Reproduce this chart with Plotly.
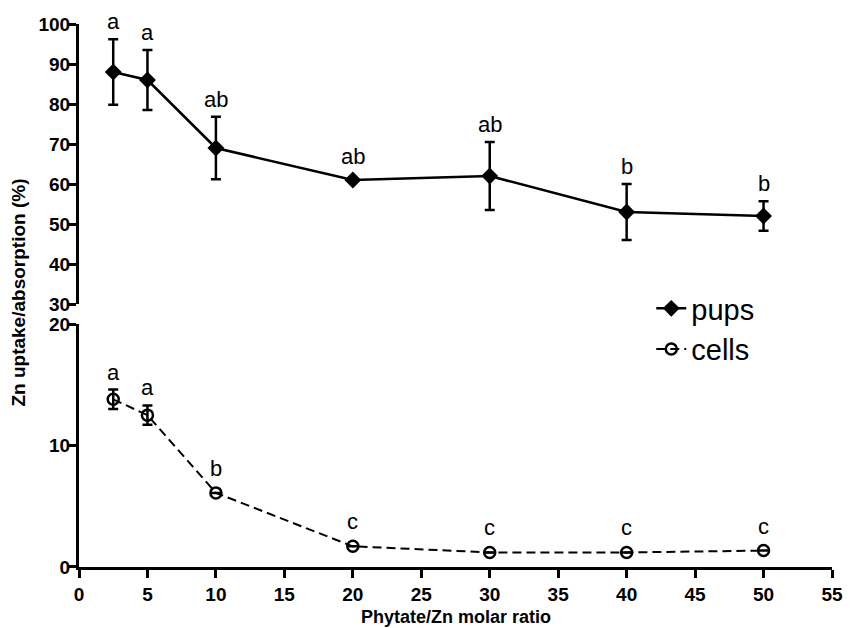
import plotly.graph_objects as go

# ---- data ----
ratio = [2.5, 5, 10, 20, 30, 40, 50]
pups_mean = [88, 86, 69, 61, 62, 53, 52]
pups_sd = [8.2, 7.5, 7.8, None, 8.5, 7.0, 3.7]
pups_letters = ["a", "a", "ab", "ab", "ab", "b", "b"]
cells_mean = [13.8, 12.5, 6.1, 1.7, 1.2, 1.2, 1.35]
cells_sd = [0.8, 0.8, None, None, None, None, None]
cells_letters = ["a", "a", "b", "c", "c", "c", "c"]

x_ticks = list(range(0, 56, 5))
upper_ticks = [30, 40, 50, 60, 70, 80, 90, 100]
lower_ticks = [0, 10, 20]

FONT = "Liberation Sans, Arial, sans-serif"

fig = go.Figure()
fig.add_trace(go.Scatter(
    x=ratio, y=pups_mean, yaxis="y2", name="pups", mode="lines+markers",
    line=dict(color="black", width=2.5),
    marker=dict(symbol="diamond", size=13, color="black"),
    error_y=dict(type="data", array=pups_sd, visible=True, color="black",
                 thickness=2.5, width=5),
))
fig.add_trace(go.Scatter(
    x=ratio, y=cells_mean, yaxis="y", name="cells", mode="lines+markers",
    line=dict(color="black", width=2, dash="9px,5px"),
    marker=dict(symbol="circle-open", size=11, color="black", line=dict(width=2.5)),
    error_y=dict(type="data", array=cells_sd, visible=True, color="black",
                 thickness=2.5, width=5),
))

annotations = []
for xv, m, s, lab in zip(ratio, pups_mean, pups_sd, pups_letters):
    top = m + (s or 0)
    annotations.append(dict(x=xv, y=top, xref="x", yref="y2", text=lab,
                            showarrow=False, yanchor="bottom",
                            yshift=3 if s else 9,
                            font=dict(family=FONT, size=22, color="black")))
for xv, m, s, lab in zip(ratio, cells_mean, cells_sd, cells_letters):
    top = m + (s or 0)
    annotations.append(dict(x=xv, y=top, xref="x", yref="y", text=lab,
                            showarrow=False, yanchor="bottom",
                            yshift=3 if s else 10,
                            font=dict(family=FONT, size=22, color="black")))
annotations.append(dict(x=-0.08, y=0.505, xref="paper", yref="paper",
                        text="Zn uptake/absorption (%)", textangle=-90,
                        showarrow=False, xanchor="center", yanchor="middle",
                        font=dict(family=FONT, size=19, color="black", weight="bold")))
annotations.append(dict(x=0.5, y=-0.092, xref="paper", yref="paper",
                        text="Phytate/Zn molar ratio",
                        showarrow=False, xanchor="center", yanchor="middle",
                        font=dict(family=FONT, size=18, color="black", weight="bold")))

axis_common = dict(showgrid=False, zeroline=False, showline=True, linecolor="black",
                   linewidth=3, ticks="outside", ticklen=8, tickwidth=2.5,
                   tickcolor="black", automargin=False,
                   tickfont=dict(family=FONT, size=19, color="black", weight="bold"))

fig.update_layout(
    width=866, height=628,
    margin=dict(l=79, r=34, t=24, b=61),
    paper_bgcolor="white", plot_bgcolor="white",
    showlegend=True,
    legend=dict(x=0.76, y=0.523, xanchor="left", yanchor="top",
                bgcolor="rgba(0,0,0,0)",
                font=dict(family=FONT, size=29, color="black"),
                tracegroupgap=0, itemwidth=30),
    xaxis=dict(range=[0, 55], tickvals=x_ticks, anchor="y", **axis_common),
    yaxis=dict(domain=[0, 0.4475], range=[0, 20], tickvals=lower_ticks, anchor="x",
               ticklabelstandoff=-6, **axis_common),
    yaxis2=dict(domain=[0.4843, 1], range=[30, 100], tickvals=upper_ticks, anchor="x",
                ticklabelstandoff=-6, **axis_common),
    annotations=annotations,
)

fig.write_html("out.html")
